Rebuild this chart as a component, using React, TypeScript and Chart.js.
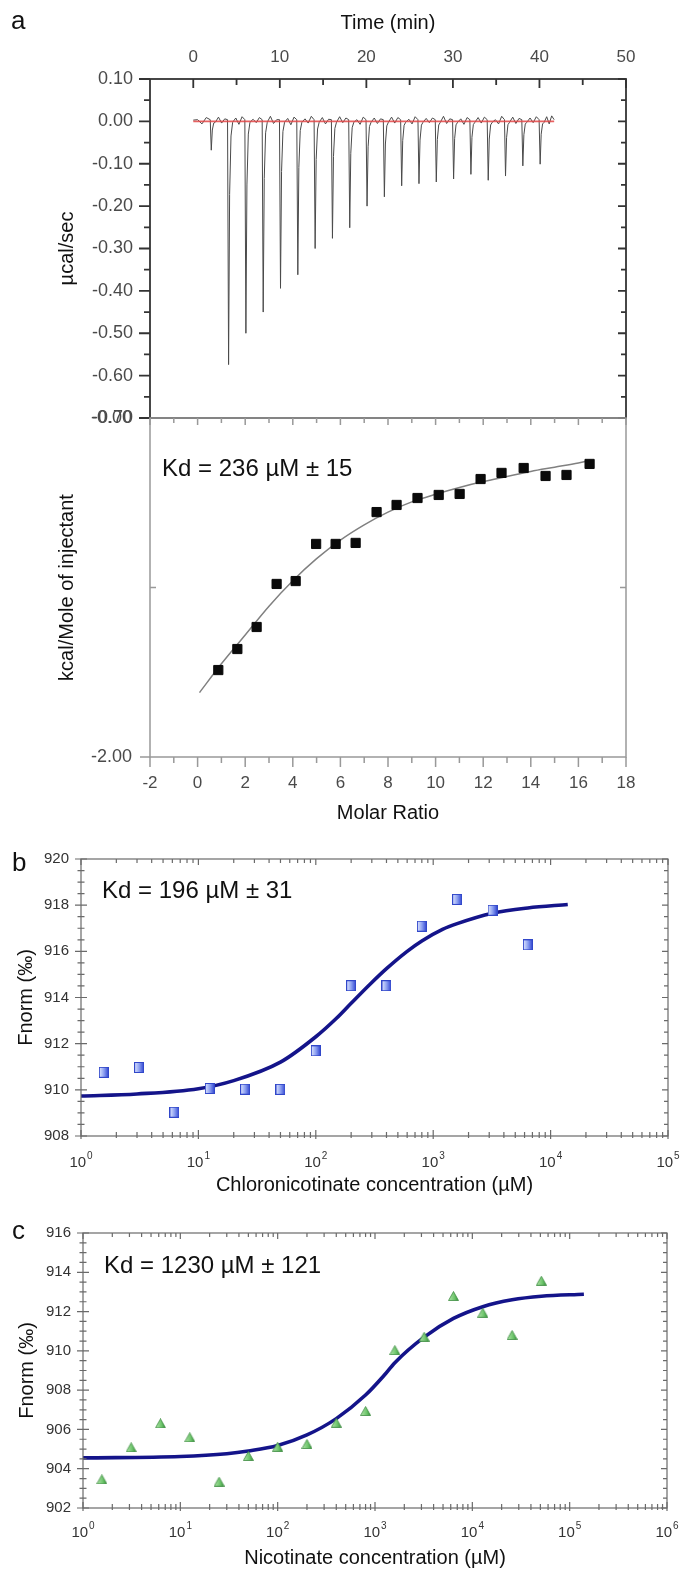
import React, { useEffect, useRef } from "react";
import { Chart, registerables } from "chart.js";
Chart.register(...registerables);

const FONT = "'Liberation Sans', Arial, Helvetica, sans-serif";

// ---------- Panel a (upper): raw ITC thermogram ----------
const injectionTimes = [2, 4, 6, 8, 10, 12, 14, 16, 18, 20, 22, 24, 26, 28, 30, 32, 34, 36, 38, 40];
const injectionPeaks = [-0.068, -0.574, -0.5, -0.45, -0.394, -0.362, -0.3, -0.276, -0.251, -0.2, -0.178, -0.152, -0.147, -0.143, -0.136, -0.125, -0.139, -0.129, -0.105, -0.101];
const baselineNoise = [
  0.004, -0.006, 0.009, 0.01, -0.004, 0.006, 0.008, -0.007, 0.011, 0.005, -0.003, 0.009,
  0.012, -0.005, 0.004, 0.007, -0.008, 0.01, 0.006, -0.004, 0.012, 0.009, -0.006, 0.005,
  0.011, -0.003, 0.008, 0.004, -0.007, 0.01, 0.008, -0.005, 0.006, 0.01, -0.004, 0.009,
  0.005, -0.006, 0.011, 0.007, -0.003, 0.008, 0.012, -0.005, 0.006, 0.006, -0.007, 0.009,
  0.009, -0.004, 0.01, 0.004, -0.006, 0.012, 0.01, -0.005, 0.007, 0.008, -0.003, 0.011,
  0.011, -0.006, 0.013,
];
const traceEnd = 41.7;
const timeMajorTicks = [0, 10, 20, 30, 40, 50];
const timeMinorTicks = [5, 15, 25, 35, 45];
const powerTicks = [0.1, 0, -0.1, -0.2, -0.3, -0.4, -0.5, -0.6, -0.7];
const powerMinorTicks = [0.05, -0.05, -0.15, -0.25, -0.35, -0.45, -0.55, -0.65];

// ---------- Panel a (lower): integrated heats ----------
const molarRatio = [0.87, 1.67, 2.48, 3.32, 4.12, 4.98, 5.8, 6.64, 7.52, 8.36, 9.24, 10.13, 11.01, 11.89, 12.77, 13.7, 14.62, 15.5, 16.47];
const heatPerMole = [-1.487, -1.363, -1.233, -0.979, -0.962, -0.743, -0.743, -0.737, -0.555, -0.513, -0.472, -0.454, -0.448, -0.36, -0.324, -0.295, -0.342, -0.336, -0.271];
const fitRatio = [0.08, 1, 2, 3, 4, 5, 6, 7, 8, 9, 10, 11, 12, 13, 14, 15, 16, 16.5];
const fitHeat = [-1.62, -1.45, -1.28, -1.11, -0.96, -0.83, -0.72, -0.63, -0.555, -0.495, -0.45, -0.41, -0.375, -0.345, -0.315, -0.29, -0.265, -0.25];
const ratioTicks = [-2, 0, 2, 4, 6, 8, 10, 12, 14, 16, 18];
const ratioMinorTicks = [-1, 1, 3, 5, 7, 9, 11, 13, 15, 17];
const heatTicks = [-2, -1, 0];

// ---------- Panel b: MST chloronicotinate ----------
const concB = [1.5625, 3.125, 6.25, 12.5, 25, 50, 100, 200, 400, 800, 1600, 3200, 6400];
const fnormB = [910.76, 910.97, 909.03, 910.06, 910.03, 910.02, 911.69, 914.51, 914.51, 917.09, 918.25, 917.78, 916.28];
const fitConcB = [1, 3, 10, 20, 50, 100, 150, 200, 300, 400, 600, 800, 1200, 1600, 3200, 6400, 14000];
const fitB = [909.73, 909.82, 910.05, 910.4, 911.2, 912.3, 913.1, 913.75, 914.65, 915.25, 916.0, 916.45, 916.95, 917.2, 917.65, 917.88, 918.03];
const fnormTicksB = [908, 910, 912, 914, 916, 918, 920];

// ---------- Panel c: MST nicotinate ----------
const concC = [1.5625, 3.125, 6.25, 12.5, 25, 50, 100, 200, 400, 800, 1600, 3200, 6400, 12800, 25600, 51200];
const fnormC = [903.46, 905.09, 906.31, 905.6, 903.34, 904.65, 905.12, 905.26, 906.34, 906.94, 910.04, 910.72, 912.79, 911.94, 910.81, 913.57];
const fitConcC = [1, 10, 30, 50, 100, 200, 400, 800, 1230, 1600, 3200, 6400, 12800, 25600, 51200, 140000];
const fitC = [904.55, 904.62, 904.76, 904.9, 905.18, 905.72, 906.55, 907.75, 908.73, 909.4, 910.7, 911.65, 912.25, 912.6, 912.78, 912.88];
const fnormTicksC = [902, 904, 906, 908, 910, 912, 914, 916];

// ---------- helpers ----------
const pts = (xs: number[], ys: number[]) => xs.map((x, i) => ({ x, y: ys[i] }));

function buildTrace() {
  const out: { x: number; y: number }[] = [];
  out.push({ x: 0, y: 0.003 }, { x: 0.5, y: baselineNoise[0] }, { x: 1.0, y: baselineNoise[1] }, { x: 1.5, y: baselineNoise[2] });
  injectionTimes.forEach((t, i) => {
    const d = injectionPeaks[i];
    out.push({ x: t - 0.04, y: 0.004 });
    out.push({ x: t + 0.08, y: d });
    out.push({ x: t + 0.2, y: d * 0.3 });
    out.push({ x: t + 0.36, y: d * 0.06 });
    out.push({ x: t + 0.55, y: -0.002 });
    const k = (i + 1) * 3;
    const start = t + 0.55;
    const end = i === injectionTimes.length - 1 ? traceEnd : t + 2;
    const step = (end - start) / 4;
    out.push({ x: start + step, y: baselineNoise[k] });
    out.push({ x: start + step * 2, y: baselineNoise[k + 1] });
    out.push({ x: start + step * 3, y: baselineNoise[k + 2] });
  });
  out.push({ x: traceEnd, y: 0.004 });
  return out;
}

const boxFit = (size: number) => (scale: any) => {
  if (scale.isHorizontal()) scale.height = size;
  else scale.width = size;
  scale.paddingLeft = 0;
  scale.paddingRight = 0;
  scale.paddingTop = 0;
  scale.paddingBottom = 0;
};

type TickSpec = { side: "left" | "right" | "top" | "bottom"; values: number[]; inLen: number; outLen: number };

function framePlugin(id: string, color: string, width: number, specs: TickSpec[], extra?: (chart: any) => void) {
  return {
    id,
    afterDraw(chart: any) {
      const { ctx, chartArea: a, scales } = chart;
      ctx.save();
      ctx.strokeStyle = color;
      ctx.lineWidth = width;
      ctx.strokeRect(a.left, a.top, a.right - a.left, a.bottom - a.top);
      ctx.beginPath();
      for (const s of specs) {
        const sc = s.side === "left" || s.side === "right" ? scales.y : scales.x;
        for (const v of s.values) {
          const p = sc.getPixelForValue(v);
          if (s.side === "left") { ctx.moveTo(a.left - s.outLen, p); ctx.lineTo(a.left + s.inLen, p); }
          if (s.side === "right") { ctx.moveTo(a.right - s.inLen, p); ctx.lineTo(a.right + s.outLen, p); }
          if (s.side === "top") { ctx.moveTo(p, a.top - s.outLen); ctx.lineTo(p, a.top + s.inLen); }
          if (s.side === "bottom") { ctx.moveTo(p, a.bottom + s.outLen); ctx.lineTo(p, a.bottom - s.inLen); }
        }
      }
      ctx.stroke();
      ctx.restore();
      if (extra) extra(chart);
    },
  };
}

function logLabels(decades: number[], dy: number) {
  return (chart: any) => {
    const { ctx, chartArea: a, scales } = chart;
    ctx.save();
    ctx.fillStyle = "#333";
    ctx.textBaseline = "alphabetic";
    ctx.textAlign = "left";
    for (const e of decades) {
      const px = scales.x.getPixelForValue(Math.pow(10, e));
      ctx.font = `15px ${FONT}`;
      const w1 = ctx.measureText("10").width;
      ctx.font = `10px ${FONT}`;
      const w2 = ctx.measureText(String(e)).width;
      const start = px - (w1 + w2 + 1) / 2;
      ctx.font = `15px ${FONT}`;
      ctx.fillText("10", start, a.bottom + dy);
      ctx.font = `10px ${FONT}`;
      ctx.fillText(String(e), start + w1 + 1, a.bottom + dy - 8);
    }
    ctx.restore();
  };
}

function logMinor(maxDecade: number) {
  const out: number[] = [];
  for (let d = 0; d < maxDecade; d++) for (let m = 2; m <= 9; m++) out.push(m * Math.pow(10, d));
  return out;
}
function halfSteps(lo: number, hi: number, step: number, skip: number) {
  const out: number[] = [];
  for (let v = lo; v <= hi + 1e-9; v += step) if (Math.abs(Math.round(v / skip) * skip - v) > 1e-6) out.push(v);
  return out;
}

function markerImage(kind: "square" | "triangle") {
  const c = document.createElement("canvas");
  if (kind === "square") {
    c.width = 10; c.height = 11;
    const g = c.getContext("2d")!;
    const grad = g.createLinearGradient(0, 0, 10, 0);
    grad.addColorStop(0, "#e4eaff");
    grad.addColorStop(0.5, "#8ea2f2");
    grad.addColorStop(1, "#2a3fd0");
    g.fillStyle = grad;
    g.fillRect(0.5, 0.5, 9, 10);
    g.strokeStyle = "#3147c9";
    g.lineWidth = 1;
    g.strokeRect(0.5, 0.5, 9, 10);
  } else {
    c.width = 11; c.height = 10;
    const g = c.getContext("2d")!;
    const grad = g.createLinearGradient(0, 0, 11, 0);
    grad.addColorStop(0, "#b9e8b0");
    grad.addColorStop(0.6, "#6cc46a");
    grad.addColorStop(1, "#2f8a35");
    g.fillStyle = grad;
    g.beginPath();
    g.moveTo(5.5, 0.5); g.lineTo(10.5, 9.5); g.lineTo(0.5, 9.5); g.closePath();
    g.fill();
    g.strokeStyle = "#3c8c40";
    g.lineWidth = 0.8;
    g.stroke();
  }
  return c;
}

const noGrid = { display: false, drawTicks: false, tickLength: 0 };
const noBorder = { display: false };
const titleFont = { family: FONT, size: 20 };

function useChart(ref: React.RefObject<HTMLCanvasElement>, make: () => any) {
  useEffect(() => {
    if (!ref.current) return;
    const c = new Chart(ref.current, make());
    return () => c.destroy();
  }, []);
}

export default function App() {
  const r1 = useRef<HTMLCanvasElement>(null);
  const r2 = useRef<HTMLCanvasElement>(null);
  const r3 = useRef<HTMLCanvasElement>(null);
  const r4 = useRef<HTMLCanvasElement>(null);

  // upper ITC panel: canvas 0..432, chart area 150..626 x 79..418
  useChart(r1, () => ({
    type: "scatter",
    data: {
      datasets: [
        { data: [{ x: 0, y: 0 }, { x: traceEnd, y: 0 }], showLine: true, borderColor: "rgba(228,70,70,0.85)", borderWidth: 1.6, pointRadius: 0, order: 0 },
        { data: buildTrace(), showLine: true, borderColor: "#4a4a4a", borderWidth: 1, pointRadius: 0, order: 1 },
      ],
    },
    options: {
      responsive: false, animation: false, events: [],
      layout: { padding: { left: 0, right: 54, top: 0, bottom: 14 } },
      plugins: { legend: { display: false }, tooltip: { enabled: false } },
      scales: {
        x: {
          type: "linear", position: "top", min: -5, max: 50,
          afterBuildTicks: (s: any) => { s.ticks = timeMajorTicks.map((v) => ({ value: v })); },
          afterFit: boxFit(79),
          grid: noGrid, border: noBorder,
          ticks: { autoSkip: false, maxRotation: 0, padding: 11, color: "#4a4a4a", font: { family: FONT, size: 17 }, callback: (v: any) => String(v) },
          title: { display: true, text: "Time (min)", color: "#111", font: titleFont, padding: { top: 11, bottom: 0 } },
        },
        y: {
          type: "linear", min: -0.7, max: 0.1,
          afterBuildTicks: (s: any) => { s.ticks = powerTicks.map((v) => ({ value: v })); },
          afterFit: boxFit(150),
          grid: noGrid, border: noBorder,
          ticks: { autoSkip: false, padding: 17, color: "#4a4a4a", font: { family: FONT, size: 18 }, callback: (v: any) => Number(v).toFixed(2) },
          title: { display: true, text: "µcal/sec", color: "#111", font: titleFont, padding: { top: 55, bottom: 0 } },
        },
      },
    },
    plugins: [
      framePlugin("frameA1", "#333", 1.8, [
        { side: "top", values: timeMajorTicks, inLen: 9, outLen: 0 },
        { side: "top", values: timeMinorTicks, inLen: 6, outLen: 0 },
        { side: "left", values: powerTicks, inLen: 0, outLen: 11 },
        { side: "left", values: powerMinorTicks, inLen: 0, outLen: 6 },
        { side: "right", values: powerTicks, inLen: 8, outLen: 0 },
        { side: "right", values: powerMinorTicks, inLen: 5, outLen: 0 },
      ]),
    ],
  }));

  // lower ITC panel: canvas 400..830, chart area 150..626 x 418..757
  useChart(r2, () => ({
    type: "scatter",
    data: {
      datasets: [
        { data: pts(molarRatio, heatPerMole), pointStyle: "rect", pointRadius: 6.5, backgroundColor: "#0a0a0a", borderColor: "#0a0a0a", borderWidth: 1, order: 0 },
        { data: pts(fitRatio, fitHeat), showLine: true, cubicInterpolationMode: "monotone", borderColor: "#808080", borderWidth: 1.5, pointRadius: 0, order: 1 },
      ],
    },
    options: {
      responsive: false, animation: false, events: [],
      layout: { padding: { left: 0, right: 54, top: 18, bottom: 0 } },
      plugins: { legend: { display: false }, tooltip: { enabled: false } },
      scales: {
        x: {
          type: "linear", position: "bottom", min: -2, max: 18,
          afterBuildTicks: (s: any) => { s.ticks = ratioTicks.map((v) => ({ value: v })); },
          afterFit: boxFit(73),
          grid: noGrid, border: noBorder,
          ticks: { autoSkip: false, maxRotation: 0, padding: 16, color: "#4a4a4a", font: { family: FONT, size: 17 }, callback: (v: any) => String(v) },
          title: { display: true, text: "Molar Ratio", color: "#111", font: titleFont, padding: { top: 0, bottom: 5 } },
        },
        y: {
          type: "linear", min: -2, max: 0,
          afterBuildTicks: (s: any) => { s.ticks = heatTicks.map((v) => ({ value: v })); },
          afterFit: boxFit(150),
          grid: noGrid, border: noBorder,
          ticks: { autoSkip: false, padding: 18, color: "#4a4a4a", font: { family: FONT, size: 18 }, callback: (v: any) => (v === -2 ? "-2.00" : v === 0 ? "-0.00" : "") },
          title: { display: true, text: "kcal/Mole of injectant", color: "#111", font: titleFont, padding: { top: 55, bottom: 0 } },
        },
      },
    },
    plugins: [
      framePlugin("frameA2", "#999", 1.5, [
        { side: "top", values: ratioTicks, inLen: 7, outLen: 0 },
        { side: "top", values: ratioMinorTicks, inLen: 5, outLen: 0 },
        { side: "bottom", values: ratioTicks, inLen: 0, outLen: 10 },
        { side: "bottom", values: ratioMinorTicks, inLen: 0, outLen: 6 },
        { side: "left", values: [-2], inLen: 0, outLen: 10 },
        { side: "left", values: [-1], inLen: 6, outLen: 0 },
        { side: "right", values: [-1], inLen: 6, outLen: 0 },
      ]),
    ],
  }));

  // panel b: canvas 840..1200, chart area 81..668 x 859..1136
  useChart(r3, () => ({
    type: "scatter",
    data: {
      datasets: [
        { data: pts(concB, fnormB), pointStyle: markerImage("square"), pointRadius: 6, order: 0 },
        { data: pts(fitConcB, fitB), showLine: true, cubicInterpolationMode: "monotone", borderColor: "#14148a", borderWidth: 3.6, pointRadius: 0, order: 1 },
      ],
    },
    options: {
      responsive: false, animation: false, events: [],
      layout: { padding: { left: 0, right: 12, top: 19, bottom: 0 } },
      plugins: { legend: { display: false }, tooltip: { enabled: false } },
      scales: {
        x: {
          type: "logarithmic", position: "bottom", min: 1, max: 1e5,
          afterFit: boxFit(64),
          grid: noGrid, border: noBorder,
          ticks: { display: false },
          title: { display: true, text: "Chloronicotinate concentration (µM)", color: "#111", font: titleFont, padding: { top: 0, bottom: 3 } },
        },
        y: {
          type: "linear", min: 908, max: 920,
          afterBuildTicks: (s: any) => { s.ticks = fnormTicksB.map((v) => ({ value: v })); },
          afterFit: boxFit(81),
          grid: noGrid, border: noBorder,
          ticks: { autoSkip: false, padding: 12, color: "#333", font: { family: FONT, size: 15 }, callback: (v: any) => String(v) },
          title: { display: true, text: "Fnorm (‰)", color: "#111", font: titleFont, padding: { top: 14, bottom: 0 } },
        },
      },
    },
    plugins: [
      framePlugin("frameB", "#6a6a6a", 1.2, [
        { side: "left", values: fnormTicksB, inLen: 6, outLen: 6 },
        { side: "left", values: halfSteps(908, 920, 0.5, 2), inLen: 3.5, outLen: 3.5 },
        { side: "right", values: fnormTicksB, inLen: 6, outLen: 0 },
        { side: "right", values: halfSteps(908, 920, 0.5, 2), inLen: 4, outLen: 0 },
        { side: "bottom", values: [1, 10, 100, 1000, 10000, 100000], inLen: 6, outLen: 3 },
        { side: "bottom", values: logMinor(5), inLen: 4, outLen: 2 },
        { side: "top", values: [1, 10, 100, 1000, 10000, 100000], inLen: 6, outLen: 0 },
        { side: "top", values: logMinor(5), inLen: 4, outLen: 0 },
      ], logLabels([0, 1, 2, 3, 4, 5], 31)),
    ],
  }));

  // panel c: canvas 1212..1570, chart area 83..667 x 1233..1508
  useChart(r4, () => ({
    type: "scatter",
    data: {
      datasets: [
        { data: pts(concC, fnormC), pointStyle: markerImage("triangle"), pointRadius: 6, order: 0 },
        { data: pts(fitConcC, fitC), showLine: true, cubicInterpolationMode: "monotone", borderColor: "#14148a", borderWidth: 3.6, pointRadius: 0, order: 1 },
      ],
    },
    options: {
      responsive: false, animation: false, events: [],
      layout: { padding: { left: 0, right: 13, top: 21, bottom: 0 } },
      plugins: { legend: { display: false }, tooltip: { enabled: false } },
      scales: {
        x: {
          type: "logarithmic", position: "bottom", min: 1, max: 1e6,
          afterFit: boxFit(62),
          grid: noGrid, border: noBorder,
          ticks: { display: false },
          title: { display: true, text: "Nicotinate concentration (µM)", color: "#111", font: titleFont, padding: { top: 0, bottom: 0 } },
        },
        y: {
          type: "linear", min: 902, max: 916,
          afterBuildTicks: (s: any) => { s.ticks = fnormTicksC.map((v) => ({ value: v })); },
          afterFit: boxFit(83),
          grid: noGrid, border: noBorder,
          ticks: { autoSkip: false, padding: 12, color: "#333", font: { family: FONT, size: 15 }, callback: (v: any) => String(v) },
          title: { display: true, text: "Fnorm (‰)", color: "#111", font: titleFont, padding: { top: 15, bottom: 0 } },
        },
      },
    },
    plugins: [
      framePlugin("frameC", "#6a6a6a", 1.2, [
        { side: "left", values: fnormTicksC, inLen: 6, outLen: 6 },
        { side: "left", values: halfSteps(902, 916, 0.5, 2), inLen: 3.5, outLen: 3.5 },
        { side: "right", values: fnormTicksC, inLen: 6, outLen: 0 },
        { side: "right", values: halfSteps(902, 916, 0.5, 2), inLen: 4, outLen: 0 },
        { side: "bottom", values: [1, 10, 100, 1000, 10000, 100000, 1000000], inLen: 6, outLen: 3 },
        { side: "bottom", values: logMinor(6), inLen: 4, outLen: 2 },
        { side: "top", values: [1, 10, 100, 1000, 10000, 100000, 1000000], inLen: 6, outLen: 0 },
        { side: "top", values: logMinor(6), inLen: 4, outLen: 0 },
      ], logLabels([0, 1, 2, 3, 4, 5, 6], 29)),
    ],
  }));

  const abs = (left: number, top: number, size: number, extra: any = {}) => ({
    position: "absolute" as const, left, top, fontSize: size, lineHeight: `${size}px`, fontFamily: FONT, color: "#111", whiteSpace: "nowrap" as const, ...extra,
  });

  return (
    <div style={{ position: "absolute", left: 0, top: 0, width: 680, height: 1570, background: "#fff", overflow: "hidden" }}>
      <canvas ref={r1} width={680} height={432} style={{ position: "absolute", left: 0, top: 0 }} />
      <canvas ref={r2} width={680} height={430} style={{ position: "absolute", left: 0, top: 400 }} />
      <canvas ref={r3} width={680} height={360} style={{ position: "absolute", left: 0, top: 840 }} />
      <canvas ref={r4} width={680} height={358} style={{ position: "absolute", left: 0, top: 1212 }} />
      <div style={abs(11, 7, 26)}>a</div>
      <div style={abs(12, 849, 26)}>b</div>
      <div style={abs(12, 1217, 26)}>c</div>
      <div style={abs(162, 456, 24)}>Kd = 236 µM ± 15</div>
      <div style={abs(102, 878, 24)}>Kd = 196 µM ± 31</div>
      <div style={abs(104, 1253, 24)}>Kd = 1230 µM ± 121</div>
    </div>
  );
}
